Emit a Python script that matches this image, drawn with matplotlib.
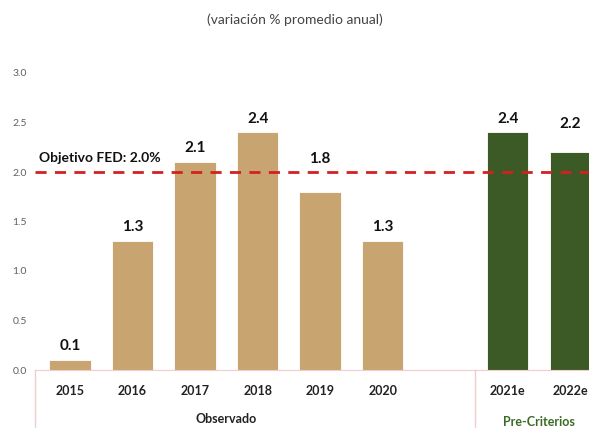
import matplotlib.pyplot as plt
import numpy as np

plt.rcParams['font.family'] = ['Lato', 'DejaVu Sans']

years = ['2015', '2016', '2017', '2018', '2019', '2020', '2021e', '2022e']
growth = [0.1, 1.3, 2.1, 2.4, 1.8, 1.3, 2.4, 2.2]
positions = [0, 1, 2, 3, 4, 5, 7, 8]
fed_target = 2.0
yticks = [0.0, 0.5, 1.0, 1.5, 2.0, 2.5, 3.0]

tan = '#c8a470'
green = '#3b5a25'
colors = [tan] * 6 + [green] * 2

fig = plt.figure(figsize=(5.89, 4.28), dpi=100)
ax = fig.add_axes([35 / 589, 58 / 428, 1 - 35 / 589, 297 / 428])

ax.bar(positions, growth, width=0.66, color=colors, edgecolor='white', linewidth=0.6, zorder=2)

# labels that would sit on the dashed line get pushed up a bit
lift = {'2019': 0.19, '2022e': 0.14}
for x, v, lab in zip(positions, growth, years):
    ax.text(x, v + 0.14 + lift.get(lab, 0), f'{v:.1f}', ha='center', va='center',
            fontsize=11, fontweight='bold', color='#111111')

ax.axhline(fed_target, color='#d42020', linestyle=(0, (4, 3)), linewidth=2, zorder=3)
ax.text(-0.5, fed_target + 0.08, 'Objetivo FED: 2.0%', ha='left', va='bottom',
        fontsize=10, fontweight='bold', color='#111111')

ax.set_xlim(-0.56, 8.3)
ax.set_ylim(0, 3.0)
ax.set_yticks(yticks)
ax.set_yticklabels([f'{t:.1f}' for t in yticks], fontsize=7.5, color='#606060')
ax.tick_params(axis='y', length=0, pad=6)
ax.set_xticks([])
for s in ['top', 'right', 'left']:
    ax.spines[s].set_visible(False)
ax.spines['bottom'].set_color('#f2cccc')

# category labels and group separators under the axis
trans = ax.get_xaxis_transform()
for x, lab in zip(positions, years):
    ax.text(x, -0.07, lab, transform=trans, ha='center', va='center',
            fontsize=9, fontweight='bold', color='#222222')
ax.text(2.5, -0.165, 'Observado', transform=trans, ha='center', va='center',
        fontsize=9, fontweight='bold', color='#222222')
ax.text(7.5, -0.175, 'Pre-Criterios', transform=trans, ha='center', va='center',
        fontsize=9, fontweight='bold', color='#3b6a25')
for xs in [-0.56, 6.47]:
    ax.plot([xs, xs], [0, -0.2], transform=trans, color='#f2cccc', linewidth=1,
            clip_on=False)

fig.text(0.5, 1 - 20 / 428, '(variación % promedio anual)', ha='center', va='center',
         fontsize=10, color='#444444')

fig.savefig('out.png', dpi=100)
